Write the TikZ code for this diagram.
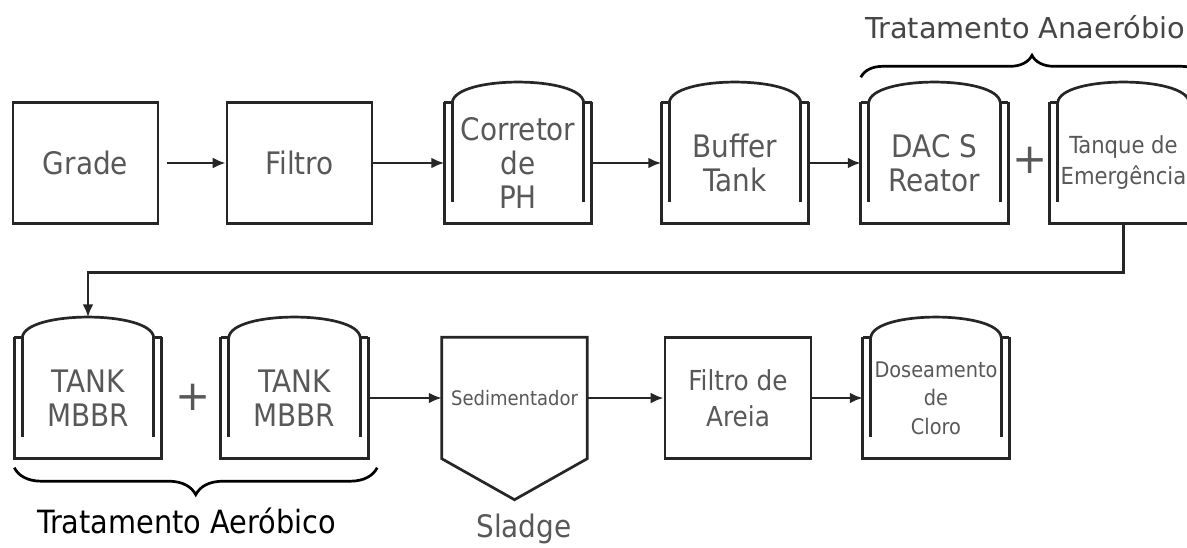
\documentclass[tikz,border=0pt]{standalone}
\usepackage{fontspec}
\setmainfont{DejaVu Sans}
\newfontfamily\condensed{DejaVu Sans Condensed}
\usepackage{xcolor}
\usetikzlibrary{arrows.meta,decorations.pathreplacing}
\definecolor{LineGray}{RGB}{38,38,38}
\definecolor{TextGray}{RGB}{88,88,88}
\definecolor{TitleGray}{RGB}{70,70,70}

\newcommand{\tankbody}[1]{%
  \draw[wall] (#1.north west) -- (#1.south west) -- (#1.south east) -- (#1.north east);
  \draw[wall] (#1.north west) -- ++(8,0) coordinate (#1-il) -- ++(0,100);
  \draw[wall] (#1.north east) -- ++(-8,0) coordinate (#1-ir) -- ++(0,100);
  \draw[wall] (#1-il) .. controls +(3,-27) and +(-3,-27) .. (#1-ir);
  \coordinate (#1-top) at ([yshift=20pt]#1.north);
}

\begin{document}
\begin{tikzpicture}[x=1pt,y=-1pt,
    wall/.style={draw=LineGray,line width=2.7pt},
    lbl/.style={inner sep=0pt,text=TextGray,align=center,font=\condensed\fontsize{31}{34}\selectfont},
    box/.style={lbl,wall,minimum width=145pt,minimum height=121pt},
    tank/.style={lbl,minimum width=147pt,minimum height=121pt},
    arr/.style={draw=LineGray,line width=2.7pt,-{Latex[length=13pt,width=11pt]}},
    plus/.style={inner sep=0pt,text=TextGray,font=\fontsize{42}{42}\selectfont},
    brace/.style={draw=black,line width=2.7pt,decorate,decoration={brace,amplitude=#1}},
    title/.style={inner sep=0pt,anchor=base,font=\fontsize{28.8}{34}\selectfont}]
  \useasboundingbox (0,0) rectangle (1187,547);

  % primeira linha
  \node[box] (grade) at (85.5,163) {Grade};
  \node[box] (filtro) at (299.5,163) {Filtro};
  \node[tank] (corretor) at (518,163) {Corretor\\de\\PH};
  \tankbody{corretor}
  \node[tank] (buffer) at (735,163) {Buffer\\Tank};
  \tankbody{buffer}
  \node[tank] (dacs) at (934.5,163) {DAC S\\Reator};
  \tankbody{dacs}
  \node[plus] (plusa) at (1030,160) {+};
  \node[tank,font=\condensed\fontsize{23.5}{31}\selectfont] (emerg) at (1123.5,163) {Tanque de\\Emergência};
  \tankbody{emerg}

  % segunda linha
  \node[tank] (mbbra) at (88,398) {TANK\\MBBR};
  \tankbody{mbbra}
  \node[plus] (plusb) at (193,397) {+};
  \node[tank] (mbbrb) at (294.5,398) {TANK\\MBBR};
  \tankbody{mbbrb}
  \node[tank,font=\condensed\fontsize{20}{24}\selectfont,minimum width=145pt] (sed) at (514.5,398) {Sedimentador};
  \draw[wall] (sed.north west) -- (sed.south west) -- ([yshift=-41pt]sed.south)
    -- (sed.south east) -- (sed.north east) -- cycle;
  \node[box,font=\condensed\fontsize{27.5}{36}\selectfont,minimum width=146pt] (areia) at (738,398) {Filtro de\\Areia};
  \node[tank,font=\condensed\fontsize{21.5}{28.5}\selectfont,minimum width=146pt] (dose) at (936,398) {Doseamento\\de\\Cloro};
  \tankbody{dose}

  \draw[arr,shorten <=8pt] (grade.east) -- (filtro.west);
  \draw[arr] (filtro.east) -- (corretor.west);
  \draw[arr] (corretor.east) -- (buffer.west);
  \draw[arr] (buffer.east) -- (dacs.west);
  \draw[arr] (emerg.south) -- ++(0,49) -| (mbbra-top);
  \draw[arr] (mbbrb.east) -- (sed.west);
  \draw[arr] (sed.east) -- (areia.west);
  \draw[arr] (areia.east) -- (dose.west);

  \draw[brace=22pt] ([yshift=25pt]dacs.north west) -- ([xshift=6pt,yshift=25pt]emerg.north east);
  \node[title,text=TitleGray] (anaer) at (1025,38) {Tratamento Anaeróbio};
  \draw[brace=27pt] ([xshift=9pt,yshift=-9pt]mbbrb.south east) -- ([yshift=-9pt]mbbra.south west);
  \node[title,text=black,font=\condensed\fontsize{32}{36}\selectfont] (aerob) at (186.5,533) {Tratamento Aeróbico};
  \node[title,text=TextGray,font=\condensed\fontsize{31}{34}\selectfont] (sladge) at (524,537) {Sladge};
\end{tikzpicture}
\end{document}
